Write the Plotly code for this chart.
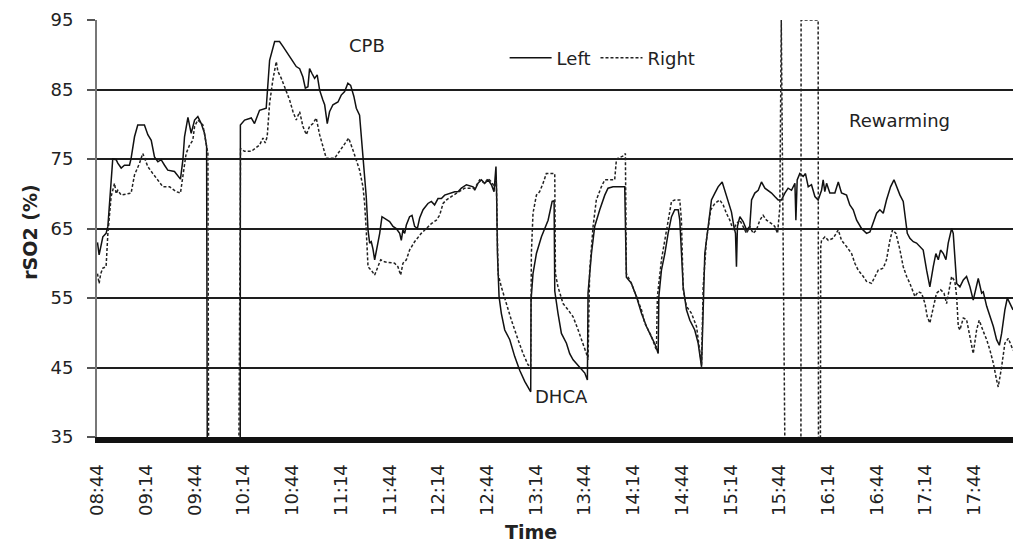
import plotly.graph_objects as go

# rSO2 readings, minutes after 08:44 (sensor dropouts recorded below the axis floor)
left_min = [0, 1, 3.3, 5.3, 6.4, 8, 9.4, 11.5, 12.5, 14.6, 16.6, 19.7, 20.7, 22.8, 24.8, 28.9, 31, 33.1, 35.1, 37.2,
            39.2, 41.3, 43.3, 47.4, 49.5, 51.1, 52.6, 53.6, 55.7, 57.7, 59.8, 61.8, 63.9, 65.9, 67.2, 67.6, 87.9, 88.0,
            90.6, 94.7, 96.7, 99.8, 103.9, 106, 109.1, 112.1, 114.2, 117.3, 120.4, 122.4, 124.5, 126.5, 128, 129.6,
            130.6, 132.1, 133.7, 135.3, 136.8, 138.8, 139.9, 141.5, 142.9, 145, 148.1, 150.1, 152.2, 154.2, 155.9,
            157.9, 159.4, 161.4, 162.9, 164.1, 165.5, 166.6, 167.6, 168.6, 169.6, 170.7, 172.3, 173.8, 175.2, 176.8,
            179.9, 182, 184, 186.1, 187.1, 188.1, 189.2, 190.2, 192.2, 193.7, 195.3, 197, 198.4, 200.5, 203.5, 205.6,
            207.6, 209.7, 211.8, 213.8, 216.9, 220, 222, 224.1, 227.2, 231.3, 232.3, 234.3, 236.4, 238.4, 240.5, 242.6,
            244.2, 245.4, 245.8, 246.3, 247.3, 248.7, 250.8, 253.9, 256.9, 260, 263.1, 266.2, 266.8, 267, 268.2, 270.3,
            273.4, 277.5, 280, 281.2, 281.6, 283.6, 285.7, 288.8, 290.8, 292.9, 294.9, 297, 300.1, 301.7, 302.1, 304.2,
            306.2, 309.3, 312.4, 314.4, 317.5, 324.7, 325.7, 328.8, 331.9, 335, 338.1, 341.1, 343.6, 345.3, 345.7,
            347.3, 349.4, 351.4, 353.5, 355.5, 357.6, 358.6, 359.6, 360.7, 362.7, 364.8, 367.8, 369.9, 372, 373, 374,
            376.1, 378.1, 380.2, 382.2, 384.7, 386.3, 388.4, 390.4, 391.9, 392.9, 393.5, 394.1, 395.6, 397.6, 399.7,
            401.7, 402.8, 404.8, 406.9, 408.9, 411, 413, 415.1, 417.1, 419.2, 421.2, 423.3, 425.3, 427.4, 429.5, 430.1,
            430.9, 432.5, 434.6, 436, 437.7, 439.7, 441.8, 443.8, 445.9, 446.9, 447.9, 449, 451, 454.1, 456.2, 458.2,
            461.3, 463.3, 465.4, 467.5, 470.5, 473.6, 475.7, 477.7, 479.8, 481.8, 483.9, 485.9, 488.4, 490.5, 492.1,
            494.2, 496.2, 497.2, 498.7, 500.3, 502.4, 504.4, 506.5, 508.5, 510.6, 512.6, 514.7, 516.3, 517.8, 519.2,
            520.9, 522.5, 523.9, 526, 527, 528, 529.1, 531.1, 533.2, 535.2, 537.3, 539.3, 540.4, 542.4, 544.5, 545.5,
            547.6, 549.6, 551.7, 553.7, 555.4, 556.8, 558.8, 560.3, 561.9, 563.8]
left_rso2 = [63, 61.2, 63.8, 64.3, 65.3, 70, 75, 74.9, 74.4, 73.7, 74.1, 74.1, 75.1, 78.2, 79.9, 79.9, 78.5, 77.7, 75.3,
             74.6, 74.9, 74.1, 73.4, 73.2, 72.5, 72.1, 74.9, 78.2, 81, 78.7, 80.6, 81.1, 80.1, 78.7, 76.8, 34, 34, 79.9,
             80.6, 80.9, 80.1, 82, 82.3, 89.2, 91.9, 91.9, 91.2, 90, 89, 88.3, 88, 86.8, 85.2, 85.4, 88, 87.3, 86.6,
             87.1, 84.9, 83.5, 82.8, 80.1, 81.8, 82.8, 83.2, 84.2, 84.7, 85.9, 85.6, 84, 82.3, 81.3, 76.8, 74.4, 69.6,
             64.8, 62.9, 63.1, 62.1, 60.5, 62.4, 64.3, 66.7, 66.5, 66, 65.3, 65, 64.3, 63.3, 64.8, 64.3, 65.5, 66.7,
             66.9, 65.3, 65, 66.5, 67.7, 68.6, 68.9, 68.4, 69.3, 69.3, 69.8, 70.1, 70.3, 70.3, 70.8, 71.3, 71, 70.5,
             71.5, 72, 71.5, 72, 71.3, 70.3, 73.9, 70.1, 61.4, 55.2, 52.8, 50.4, 49, 46.6, 44.6, 43, 41.8, 41.5, 54.7,
             58.5, 61.4, 63.8, 66.2, 68.9, 69, 56, 52.8, 49.9, 48.5, 47, 46.1, 45.6, 45.1, 44.2, 43.2, 55.7, 61.4, 65.3,
             67.7, 69.8, 70.8, 71, 71, 58, 57.1, 55.2, 52.8, 50.9, 49.4, 48.2, 47, 55.2, 59, 61.4, 64.3, 66.7, 67.7,
             67.7, 66.2, 60.5, 56.6, 53.3, 51.8, 50.4, 48.5, 45.1, 55.2, 61.4, 65.3, 69.1, 70.1, 71, 71.7, 70.5, 68.6,
             67.4, 65.3, 64.3, 59.5, 65.3, 66.7, 66, 64.8, 65.3, 69.1, 70.1, 70.5, 71.7, 70.8, 70.5, 70.1, 69.6, 69.1,
             69.1, 70.1, 70.8, 70.5, 71.5, 66.2, 72, 72.9, 72.5, 72.9, 71, 71.3, 69.6, 69.1, 70.5, 72, 70.3, 71.5, 70.1,
             70.1, 71.7, 70.1, 69.8, 68.4, 67.7, 66.2, 65, 64.3, 64.5, 65.7, 67.2, 67.7, 67.2, 69.1, 71, 72, 71, 69.8,
             68.9, 66.7, 64.3, 63.6, 63.1, 62.9, 62.4, 61.9, 59, 56.6, 59.5, 61.4, 60.5, 61.9, 61.4, 60.5, 62.9, 65,
             64.3, 61.4, 57.1, 56.6, 57.6, 58.1, 56.6, 54.7, 55.7, 57.8, 55.7, 55.9, 53.8, 52.3, 50.9, 49, 48.2, 49.9,
             53.3, 55, 54.2, 53.3]

right_min = [0, 1, 2, 3.3, 5.3, 6.4, 8.4, 10.5, 11.5, 12.5, 14.6, 20.7, 22.8, 25.9, 27.9, 31, 34.1, 37.2, 40.3, 44.4,
             48.5, 51.1, 52.6, 54.6, 56.7, 58.7, 59.8, 61.8, 64.9, 66.9, 68, 68.4, 87.1, 88.1, 90.6, 94.7, 96.7, 99.8,
             101.9, 103.3, 104.5, 106, 108, 110.1, 111.1, 113.2, 115.2, 118.3, 120.4, 122.4, 124.5, 126.5, 128.6,
             130.6, 132.7, 134.7, 136.8, 138.8, 140.9, 146, 148.1, 150.1, 152.2, 154.7, 157.3, 159.4, 161.4, 163.5,
             164.5, 165.5, 166.6, 168.6, 170.7, 172.7, 174.4, 176.8, 180.9, 183, 185, 186.7, 188.1, 190.2, 192.2,
             195.3, 199.4, 202.5, 205.6, 208.7, 210.7, 212.8, 214.8, 217.9, 221, 226.1, 228.2, 232.3, 235.4, 238.4,
             240.5, 242.6, 244.6, 245.6, 246.7, 248.7, 251.8, 254.9, 259, 262.1, 265.1, 266.8, 267.2, 268.2, 270.3,
             272.3, 274.4, 276.4, 281.6, 282, 283.6, 286.7, 289.8, 292.9, 296, 299, 301.1, 302.1, 303.1, 305.2, 307.2,
             310.3, 312.4, 318.5, 319.6, 324.3, 325.1, 325.7, 328.8, 331.9, 335, 337, 341.1, 344.2, 344.8, 347.3, 349.4,
             351.4, 353.5, 355.5, 358.6, 359.6, 360.7, 362.7, 365.8, 368.9, 372, 373, 375, 377.7, 380.2, 383.2, 385.3,
             387.3, 389.4, 391.5, 393.5, 395.6, 397.6, 399.7, 401.7, 403.8, 405.8, 407.9, 409.9, 412, 415.1, 417.1,
             418.8, 420.2, 421.1, 423.3, 433.2, 433.3, 443.8, 444, 445.2, 445.4, 445.9, 448, 450, 453.1, 456.2, 458.2,
             461.3, 464.4, 466.4, 468.5, 471.6, 473.6, 476.7, 478.8, 480.8, 483.9, 485.9, 488, 489.6, 491.7, 494.2,
             496.2, 498.3, 500.3, 503.4, 505.4, 507.5, 509.6, 511, 512.6, 514.7, 516.7, 519.2, 521.3, 522.9, 525, 526,
             528, 529.1, 530.1, 531.1, 533.2, 535.2, 537.3, 539.3, 541.4, 543, 545.5, 547.6, 549.6, 551.7, 553.7, 554.7,
             556.8, 558.8, 560.9, 563.8]
right_rso2 = [58.5, 57.1, 58.5, 59.3, 59.5, 64.3, 69.6, 71.5, 70, 70.5, 69.8, 70.1, 72.7, 74.4, 75.8, 73.9, 72.9, 72,
              71, 71, 70.3, 70.1, 72.9, 75.8, 77, 77.7, 79.7, 80.6, 79.9, 77.3, 75.8, 34, 34, 76.5, 76.1, 76.1, 76.5,
              77, 78, 77.3, 78.2, 83, 86.4, 89, 87.6, 86.6, 85.4, 83.5, 81.8, 80.6, 81.8, 79.7, 78.5, 79.7, 80.1, 80.9,
              78.5, 76.8, 75.1, 75.1, 75.8, 76.3, 77, 78, 76.3, 74.9, 73.4, 71, 68.6, 64.8, 59.5, 59, 58.3, 59.5, 60.5,
              60.2, 60, 60, 59.5, 58.3, 60, 60.5, 61.9, 63.1, 64.3, 65, 65.7, 66.2, 66.9, 68.6, 69.1, 69.6, 70.1, 70.8,
              70.8, 70.8, 72, 71.5, 72.2, 71.7, 71, 72, 58.5, 56.6, 54.2, 51.8, 49, 47, 45.4, 45.1, 61.4, 67.2, 69.8,
              70.3, 71.5, 72.9, 72.9, 58.5, 56.6, 54.2, 53.3, 52.3, 50.4, 48.5, 47, 46.1, 59, 65.3, 69.1, 71, 72, 72,
              75, 75.5, 75.8, 58.5, 57.1, 55.2, 53.3, 51.4, 49.5, 47.5, 55.2, 60.5, 63.3, 66.2, 68.9, 69.1, 69.1, 66.2,
              56.2, 53.8, 52.8, 50.9, 45.4, 56.6, 63.3, 67.7, 68.6, 69.1, 68.4, 67.2, 66.2, 64.8, 65.7, 66.2, 65.3,
              64.3, 65.3, 64.3, 64.8, 66.2, 66.9, 66.2, 65.7, 65.3, 64.3, 68, 95, 34, 34, 95, 95, 34, 34, 62.4, 63.3,
              63.8, 63.3, 63.6, 64.8, 63.3, 62.4, 61.4, 60, 59, 58.1, 57.4, 57.1, 58.1, 59, 59.3, 60.5, 63.3, 64.8,
              64.3, 61.9, 59.5, 58.1, 57.1, 55.2, 55.9, 55.7, 54.2, 52.3, 51.4, 53.8, 55.7, 56.2, 55.7, 54.2, 57.1,
              58.1, 57.4, 55.2, 50.9, 50.4, 52.1, 51.9, 49.4, 47, 50.4, 51.8, 50.2, 49, 47.5, 45.6, 43.2, 42.2, 45.1,
              48.5, 49.2, 47.5]

tick_minutes = [0, 30, 60, 90, 120, 150, 180, 210, 240, 270, 300, 330, 360, 390, 420, 450, 480, 510, 540]
tick_labels = ["08:44", "09:14", "09:44", "10:14", "10:44", "11:14", "11:44", "12:14", "12:44", "13:14",
               "13:44", "14:14", "14:44", "15:14", "15:44", "16:14", "16:44", "17:14", "17:44"]

FONT = "DejaVu Sans"
INK = "#222222"

fig = go.Figure()
fig.add_trace(go.Scatter(x=left_min, y=left_rso2, mode="lines", name="Left",
                         line=dict(color="#111111", width=1.5)))
fig.add_trace(go.Scatter(x=right_min, y=right_rso2, mode="lines", name="Right",
                         line=dict(color="#222222", width=1.5, dash="3px,2px")))

# phase labels
fig.add_annotation(x=166, y=91.3, text="CPB", showarrow=False, font=dict(family=FONT, size=18, color=INK))
fig.add_annotation(x=493.7, y=80.5, text="Rewarming", showarrow=False, font=dict(family=FONT, size=18, color=INK))
fig.add_annotation(x=285.6, y=40.8, text="DHCA", showarrow=False, font=dict(family=FONT, size=18, color=INK))

# axis titles
fig.add_annotation(xref="paper", yref="paper", x=0.474, y=-0.228, xanchor="center", yanchor="middle",
                   text="Time", showarrow=False,
                   font=dict(family=FONT, size=19, color=INK, weight="bold"))
fig.add_annotation(xref="paper", yref="paper", x=-0.073, y=0.49, xanchor="center", yanchor="middle",
                   text="rSO2 (%)", showarrow=False, textangle=-90,
                   font=dict(family=FONT, size=19, color=INK, weight="bold"))

fig.update_xaxes(range=[-0.3, 563.8], tickmode="array", tickvals=tick_minutes, ticktext=tick_labels,
                 tickangle=-90, ticks="", ticklabelstandoff=14, showgrid=False, zeroline=False,
                 showline=True, linecolor="#111111", linewidth=6,
                 tickfont=dict(family=FONT, size=18, color=INK))
fig.update_yaxes(range=[35, 95], tickmode="array", tickvals=[35, 45, 55, 65, 75, 85, 95],
                 ticks="outside", ticklen=8, tickcolor="#555555", tickwidth=1.5, ticklabelstandoff=10,
                 showgrid=True, gridcolor="#1e1e1e", gridwidth=2, zeroline=False,
                 showline=True, linecolor="#777777", linewidth=2,
                 tickfont=dict(family=FONT, size=18, color=INK))

fig.update_layout(width=1013, height=544, margin=dict(l=97, r=0, t=20, b=107),
                  paper_bgcolor="white", plot_bgcolor="white",
                  showlegend=True,
                  legend=dict(orientation="h", x=0.445, y=0.909, xanchor="left", yanchor="middle",
                              bgcolor="rgba(0,0,0,0)", itemwidth=42, tracegroupgap=0,
                              font=dict(family=FONT, size=18, color=INK)))

fig.write_html("out.html")
